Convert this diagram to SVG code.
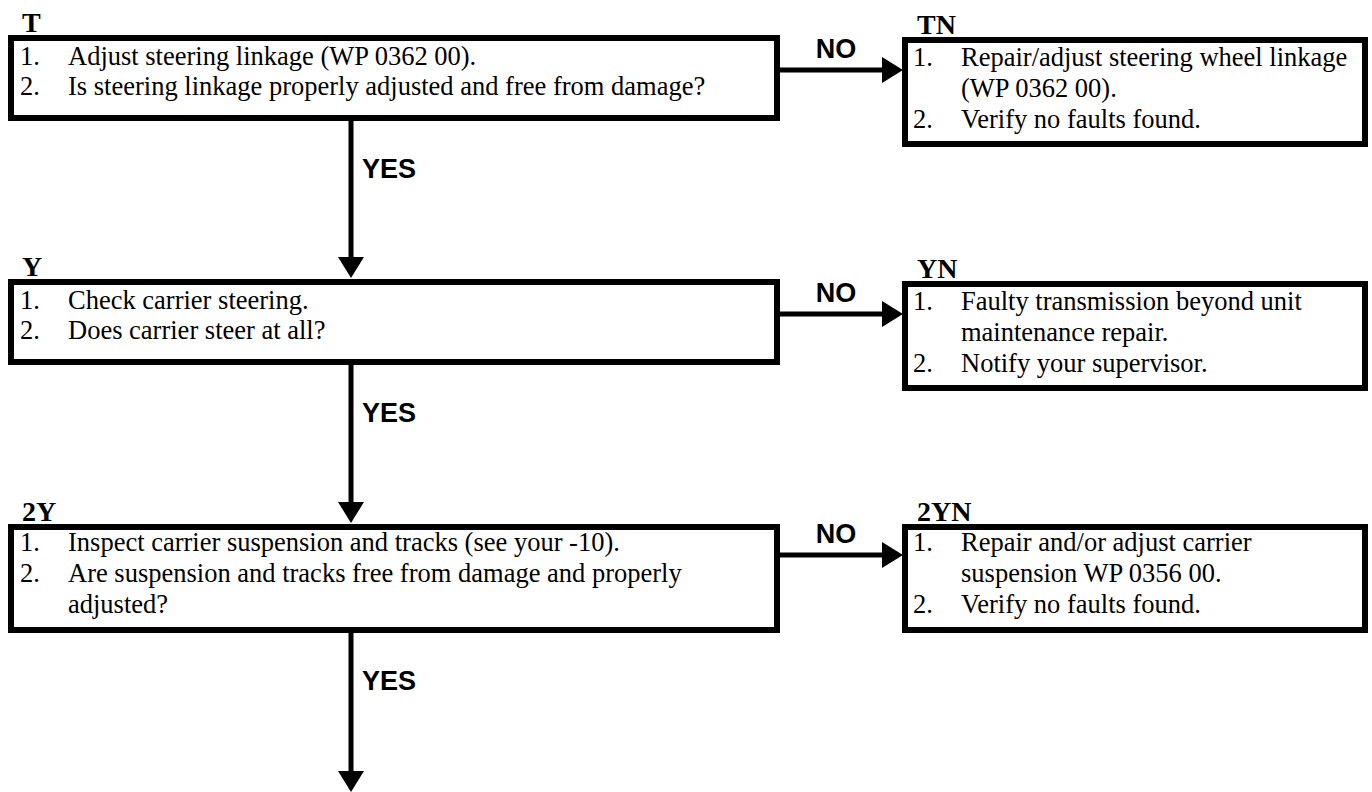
<svg xmlns="http://www.w3.org/2000/svg" width="1372" height="792" viewBox="0 0 1372 792">
<defs>
<style>
.box{fill:#fff;stroke:#000;stroke-width:6}
.t{font-family:"Liberation Serif","Times New Roman",serif;font-size:26.5px;fill:#000}
.lbl{font-family:"Liberation Serif","Times New Roman",serif;font-size:28px;font-weight:bold;fill:#000}
.yn{font-family:"Liberation Sans",Arial,sans-serif;font-size:27px;font-weight:bold;fill:#000}
.c{stroke:#000;stroke-width:5;fill:none;marker-end:url(#ah)}
</style>
<marker id="ah" markerUnits="userSpaceOnUse" markerWidth="22" markerHeight="26" refX="0" refY="13" orient="auto">
<path d="M0,0 L21,13 L0,26 Z" fill="#000"/>
</marker>
</defs>
<rect width="1372" height="792" fill="#fff"/>
<g id="connectors">
<line class="c" x1="351" y1="121" x2="351" y2="257"/>
<line class="c" x1="351" y1="365" x2="351" y2="502"/>
<line class="c" x1="351" y1="633" x2="351" y2="771"/>
<line class="c" x1="780" y1="70" x2="882" y2="70"/>
<line class="c" x1="780" y1="314" x2="882" y2="314"/>
<line class="c" x1="780" y1="555" x2="882" y2="555"/>
<text class="yn" x="362" y="178">YES</text>
<text class="yn" x="362" y="422">YES</text>
<text class="yn" x="362" y="690">YES</text>
<text class="yn" x="836" y="58" text-anchor="middle">NO</text>
<text class="yn" x="836" y="302" text-anchor="middle">NO</text>
<text class="yn" x="836" y="543" text-anchor="middle">NO</text>
</g>
<g id="T">
<text class="lbl" x="22" y="32">T</text>
<rect class="box" x="11" y="38" width="766" height="80"/>
<text class="t" x="20" y="65">1.</text><text class="t" x="68" y="65">Adjust steering linkage (WP 0362 00).</text>
<text class="t" x="20" y="95">2.</text><text class="t" x="68" y="95">Is steering linkage properly adjusted and free from damage?</text>
</g>
<g id="TN">
<text class="lbl" x="917" y="34">TN</text>
<rect class="box" x="905" y="40" width="460" height="104"/>
<text class="t" x="913" y="66">1.</text><text class="t" x="961" y="66">Repair/adjust steering wheel linkage</text>
<text class="t" x="961" y="97">(WP 0362 00).</text>
<text class="t" x="913" y="128">2.</text><text class="t" x="961" y="128">Verify no faults found.</text>
</g>
<g id="Y">
<text class="lbl" x="22" y="276">Y</text>
<rect class="box" x="11" y="282" width="766" height="80"/>
<text class="t" x="20" y="309">1.</text><text class="t" x="68" y="309">Check carrier steering.</text>
<text class="t" x="20" y="339">2.</text><text class="t" x="68" y="339">Does carrier steer at all?</text>
</g>
<g id="YN">
<text class="lbl" x="917" y="278">YN</text>
<rect class="box" x="905" y="284" width="460" height="104"/>
<text class="t" x="913" y="310">1.</text><text class="t" x="961" y="310">Faulty transmission beyond unit</text>
<text class="t" x="961" y="341">maintenance repair.</text>
<text class="t" x="913" y="372">2.</text><text class="t" x="961" y="372">Notify your supervisor.</text>
</g>
<g id="2Y">
<text class="lbl" x="22" y="521">2Y</text>
<rect class="box" x="11" y="527" width="766" height="103"/>
<text class="t" x="20" y="551">1.</text><text class="t" x="68" y="551">Inspect carrier suspension and tracks (see your -10).</text>
<text class="t" x="20" y="582">2.</text><text class="t" x="68" y="582">Are suspension and tracks free from damage and properly</text>
<text class="t" x="68" y="613">adjusted?</text>
</g>
<g id="2YN">
<text class="lbl" x="917" y="521">2YN</text>
<rect class="box" x="905" y="527" width="460" height="103"/>
<text class="t" x="913" y="551">1.</text><text class="t" x="961" y="551">Repair and/or adjust carrier</text>
<text class="t" x="961" y="582">suspension WP 0356 00.</text>
<text class="t" x="913" y="613">2.</text><text class="t" x="961" y="613">Verify no faults found.</text>
</g>
</svg>
